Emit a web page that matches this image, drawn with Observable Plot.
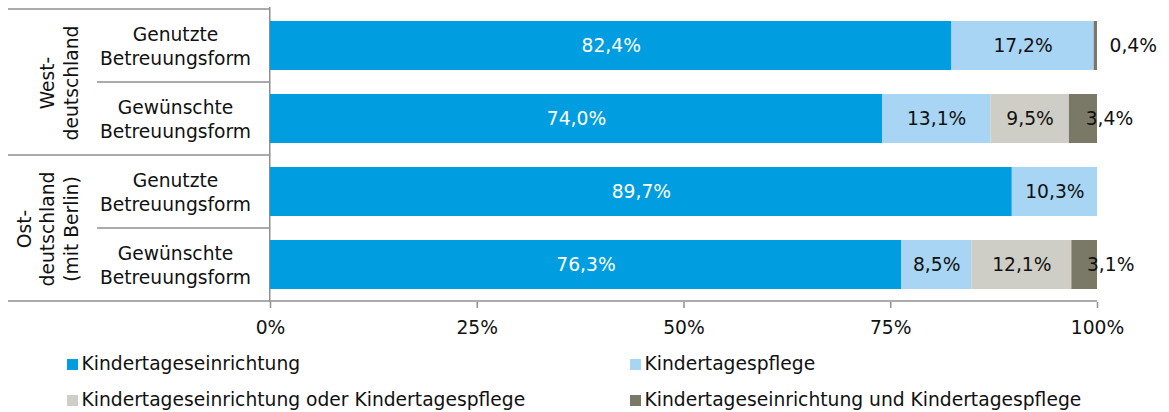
<!DOCTYPE html>
<html><head><meta charset="utf-8">
<script src="https://cdn.jsdelivr.net/npm/d3@7"></script>
<script src="https://cdn.jsdelivr.net/npm/@observablehq/plot@0.6"></script>
<style>
body{margin:0;background:#fff;font-family:"DejaVu Sans",Verdana,sans-serif;}
#chart svg{display:block}
.legend{display:grid;grid-template-columns:563px auto;padding-left:67px;font-size:18.7px;line-height:36px;color:#111}
.legend .item{display:flex;align-items:center;white-space:nowrap}
.legend .sw{display:inline-block;width:11px;height:11px;margin-right:3.5px;flex:none}
</style></head><body><div id="chart"></div><div class="legend" id="legend"></div>
<script>
// ---- data ----
const rows = ["West|Genutzt", "West|Gewünscht", "Ost|Genutzt", "Ost|Gewünscht"];
const rowLabels = ["Genutzte\nBetreuungsform", "Gewünschte\nBetreuungsform", "Genutzte\nBetreuungsform", "Gewünschte\nBetreuungsform"];
const groupLabels = ["West-\ndeutschland", "Ost-\ndeutschland\n(mit Berlin)"];
const groupFirstRow = ["West|Genutzt", "Ost|Genutzt"];
const categories = ["Kindertageseinrichtung", "Kindertagespflege", "Kindertageseinrichtung oder Kindertagespflege", "Kindertageseinrichtung und Kindertagespflege"];
const einrichtung = [82.4, 74.0, 89.7, 76.3];
const pflege = [17.2, 13.1, 10.3, 8.5];
const oder = [0, 9.5, 0, 12.1];
const und = [0.4, 3.4, 0, 3.1];
const colors = ["#009ee0", "#a8d5f3", "#cfcec6", "#7a7866"];
const xTicks = [0, 25, 50, 75, 100];

// ---- build table ----
const series = [einrichtung, pflege, oder, und];
const records = [];
rows.forEach((r, i) => {
  let acc = 0;
  series.forEach((s, k) => {
    const v = s[i];
    if (v > 0) records.push({row: r, cat: categories[k], value: v, x1: acc, x2: acc + v, mid: acc + v / 2});
    acc += v;
  });
});
const fmt = v => v.toFixed(1).replace(".", ",") + "%";
const labelRows = rows.map((r, i) => ({row: r, label: rowLabels[i]}));
const groups = groupLabels.map((g, i) => ({row: groupFirstRow[i], label: g}));

const FS = 18.7;
const W = 1169, H = 346;
const chart = Plot.plot({
  width: W, height: H,
  marginLeft: 270, marginRight: 72, marginTop: 7, marginBottom: H - 302,
  style: {fontFamily: '"DejaVu Sans", Verdana, sans-serif', fontSize: FS + "px", color: "#111", background: "#fff"},
  x: {domain: [0, 100], axis: null},
  y: {domain: rows, paddingInner: 0.33, paddingOuter: 0.165, axis: null},
  color: {domain: categories, range: colors},
  marks: [
    Plot.ruleX([0], {stroke: "#8f8f8f", strokeWidth: 1.5, dx: -0.75}),
    Plot.barX(records, {x1: "x1", x2: "x2", y: "row", fill: "cat"}),
    Plot.axisX({ticks: xTicks, tickFormat: d => d + "%", tickSize: 6, tickPadding: 12, stroke: "#8f8f8f", strokeWidth: 1.5, fill: "#111", fontSize: FS}),
    Plot.text(records.filter(d => d.cat === categories[0]), {x: "mid", y: "row", text: d => fmt(d.value), fill: "#fff", fontSize: FS}),
    Plot.text(records.filter(d => d.cat === categories[1] || d.cat === categories[2]), {x: "mid", y: "row", text: d => fmt(d.value), fill: "#111", fontSize: FS}),
    Plot.text(records.filter(d => d.cat === categories[3] && d.value >= 1), {x: "mid", y: "row", dx: 26, text: d => fmt(d.value), fill: "#111", fontSize: FS}),
    Plot.text(records.filter(d => d.cat === categories[3] && d.value < 1), {x: "x2", y: "row", dx: 12, textAnchor: "start", text: d => fmt(d.value), fill: "#111", fontSize: FS}),
    Plot.text(labelRows, {y: "row", text: "label", frameAnchor: "left", dx: -95, dy: -1, textAnchor: "middle", lineAnchor: "middle", lineHeight: 1.3, fill: "#111", fontSize: FS}),
    Plot.text(groups, {y: "row", text: "label", frameAnchor: "left", dx: -193, dy: 37, rotate: -90, textAnchor: "middle", lineAnchor: "bottom", lineHeight: 1.25, fill: "#111", fontSize: FS})
  ]
});

// table lines using the library's scales
const xs = chart.scale("x"), ys = chart.scale("y");
const bw = ys.bandwidth;
const step = ys.apply(rows[1]) - ys.apply(rows[0]);
const gap = (step - bw) / 2;
const bounds = rows.map(r => ys.apply(r) - gap);
bounds.push(ys.apply(rows[rows.length - 1]) + bw + gap);
const x0 = xs.apply(0) - 0.75;
const svg = d3.select(chart);
const g = svg.append("g").attr("stroke", "#8f8f8f").attr("stroke-width", 1.5);
bounds.forEach((b, i) => {
  const left = (i % 2 === 0) ? 8 : 97;
  const right = (i === bounds.length - 1) ? xs.apply(100) : x0;
  g.append("line").attr("x1", left).attr("x2", right).attr("y1", b).attr("y2", b);
});
document.getElementById("chart").appendChild(chart);

// legend
const leg = document.getElementById("legend");
categories.forEach((c, i) => {
  const it = document.createElement("div"); it.className = "item";
  const sw = document.createElement("span"); sw.className = "sw"; sw.style.background = colors[i];
  const t = document.createElement("span"); t.textContent = c;
  it.appendChild(sw); it.appendChild(t); leg.appendChild(it);
});
</script></body></html>
